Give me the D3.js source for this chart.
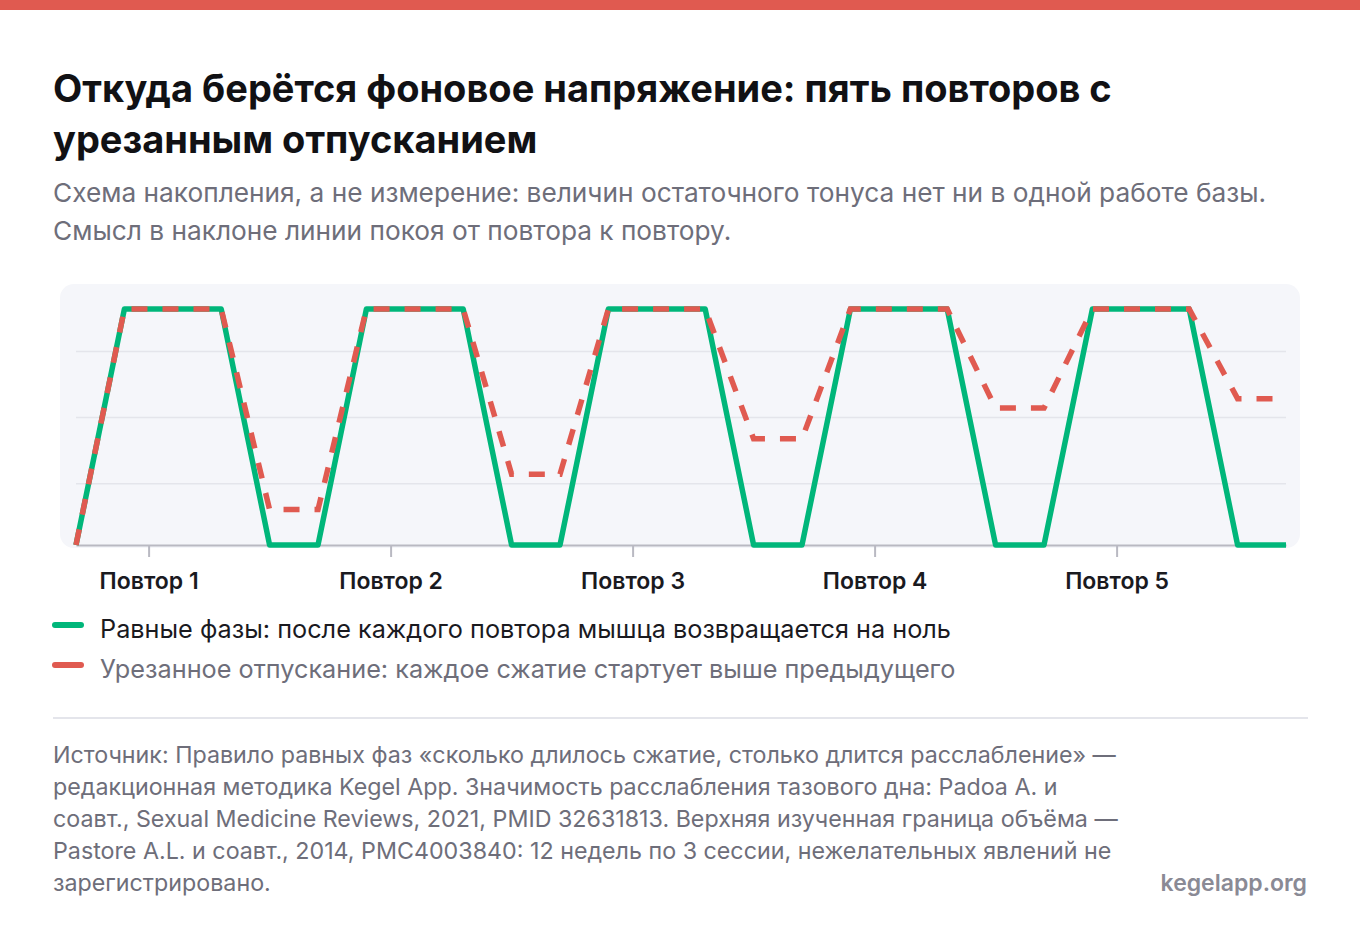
<!DOCTYPE html>
<html lang="ru">
<head>
<meta charset="utf-8">
<script src="https://cdn.jsdelivr.net/npm/d3@7"></script>
<style>
  body { margin: 0; background: #fff; font-family: Inter, "Noto Sans", sans-serif; }
  svg text { font-family: Inter, "Noto Sans", sans-serif; }
</style>
</head>
<body>
<script>
// phase time points (units: one rise / one rest = 1)
var timePoints = [0, 1, 3, 4, 5, 6, 8, 9, 10, 11, 13, 14, 15, 16, 18, 19, 20, 21, 23, 24, 25];
// equal phases: back to zero after every rep
var evenPhases = [0, 1, 1, 0, 0, 1, 1, 0, 0, 1, 1, 0, 0, 1, 1, 0, 0, 1, 1, 0, 0];
// cut release: rest line creeps up
var cutRelease = [0, 1, 1, 0.15, 0.15, 1, 1, 0.30, 0.30, 1, 1, 0.45, 0.45, 1, 1, 0.58, 0.58, 1, 1, 0.62, 0.62];
var repLabels = ["Повтор 1", "Повтор 2", "Повтор 3", "Повтор 4", "Повтор 5"];
var repTicks = [1.5, 6.5, 11.5, 16.5, 21.5];
var gridValues = [0.26, 0.54, 0.82];

var legendItems = [
  {label: "Равные фазы: после каждого повтора мышца возвращается на ноль", color: "#00b67a", text: "#1a1a1f"},
  {label: "Урезанное отпускание: каждое сжатие стартует выше предыдущего", color: "#e05a50", text: "#6e6e7a"}
];

var titleLines = ["Откуда берётся фоновое напряжение: пять повторов с", "урезанным отпусканием"];
var subtitleLines = [
  "Схема накопления, а не измерение: величин остаточного тонуса нет ни в одной работе базы.",
  "Смысл в наклоне линии покоя от повтора к повтору."
];
var sourceLines = [
  "Источник: Правило равных фаз «сколько длилось сжатие, столько длится расслабление» —",
  "редакционная методика Kegel App. Значимость расслабления тазового дна: Padoa A. и",
  "соавт., Sexual Medicine Reviews, 2021, PMID 32631813. Верхняя изученная граница объёма —",
  "Pastore A.L. и соавт., 2014, PMC4003840: 12 недель по 3 сессии, нежелательных явлений не",
  "зарегистрировано."
];

var W = 1360, H = 952;
var svg = d3.select("body").append("svg")
  .attr("width", W)
  .attr("height", H);

// top accent bar
svg.append("rect")
  .attr("x", 0).attr("y", 0)
  .attr("width", W).attr("height", 10)
  .attr("fill", "#e05a50");

// title
svg.append("g").selectAll("text")
  .data(titleLines)
  .enter()
  .append("text")
  .attr("x", 53)
  .attr("y", function(d, i) { return 102 + i * 51; })
  .attr("font-size", 38)
  .attr("font-weight", 700)
  .attr("fill", "#111114")
  .text(function(d) { return d; });

// subtitle
svg.append("g").selectAll("text")
  .data(subtitleLines)
  .enter()
  .append("text")
  .attr("x", 53)
  .attr("y", function(d, i) { return 202 + i * 38; })
  .attr("font-size", 26.25)
  .attr("fill", "#6e6e7a")
  .text(function(d) { return d; });

// chart panel
svg.append("rect")
  .attr("x", 60).attr("y", 284)
  .attr("width", 1240).attr("height", 264)
  .attr("rx", 14)
  .attr("fill", "#f5f6fa");

var x = d3.scaleLinear()
  .domain([0, 25])
  .range([76, 1286]);

var y = d3.scaleLinear()
  .domain([0, 1])
  .range([545, 309]);

// grid
svg.append("g").selectAll("line")
  .data(gridValues)
  .enter()
  .append("line")
  .attr("x1", x(0)).attr("x2", x(25))
  .attr("y1", function(d) { return y(d); })
  .attr("y2", function(d) { return y(d); })
  .attr("stroke", "#e4e5eb")
  .attr("stroke-width", 1.5);

// x axis
var xAxis = d3.axisBottom(x)
  .tickValues(repTicks)
  .tickFormat(function(d, i) { return repLabels[i]; })
  .tickSize(12)
  .tickSizeOuter(0)
  .tickPadding(16);

var axisG = svg.append("g")
  .attr("transform", "translate(0," + y(0) + ")")
  .call(xAxis);
axisG.select(".domain")
  .attr("stroke", "#b9b9c2")
  .attr("stroke-width", 2);
axisG.selectAll(".tick line")
  .attr("stroke", "#b9b9c2")
  .attr("stroke-width", 2);
axisG.selectAll(".tick text")
  .attr("font-size", 23)
  .attr("font-weight", 600)
  .attr("fill", "#1a1a1f")
  .attr("font-family", "Inter, sans-serif");

var line = d3.line()
  .x(function(d) { return x(d[0]); })
  .y(function(d) { return y(d[1]); });

svg.append("path")
  .datum(d3.zip(timePoints, evenPhases))
  .attr("d", line)
  .attr("fill", "none")
  .attr("stroke", "#00b67a")
  .attr("stroke-width", 5.5)
  .attr("stroke-linejoin", "round");

svg.append("path")
  .datum(d3.zip(timePoints, cutRelease))
  .attr("d", line)
  .attr("fill", "none")
  .attr("stroke", "#e05a50")
  .attr("stroke-width", 5.5)
  .attr("stroke-dasharray", "16,15");

// legend
var legend = svg.append("g").selectAll("g")
  .data(legendItems)
  .enter()
  .append("g")
  .attr("transform", function(d, i) { return "translate(0," + (625 + i * 40) + ")"; });

legend.append("line")
  .attr("x1", 55).attr("x2", 81)
  .attr("y1", 0).attr("y2", 0)
  .attr("stroke", function(d) { return d.color; })
  .attr("stroke-width", 6)
  .attr("stroke-linecap", "round");

legend.append("text")
  .attr("x", 100)
  .attr("y", 13)
  .attr("font-size", 25.25)
  .attr("fill", function(d) { return d.text; })
  .text(function(d) { return d.label; });

// separator
svg.append("line")
  .attr("x1", 53).attr("x2", 1308)
  .attr("y1", 718).attr("y2", 718)
  .attr("stroke", "#e4e5eb")
  .attr("stroke-width", 2);

// source
svg.append("g").selectAll("text")
  .data(sourceLines)
  .enter()
  .append("text")
  .attr("x", 53)
  .attr("y", function(d, i) { return 763 + i * 32; })
  .attr("font-size", 23.25)
  .attr("fill", "#6e6e7a")
  .text(function(d) { return d; });

svg.append("text")
  .attr("x", 1307)
  .attr("y", 891)
  .attr("text-anchor", "end")
  .attr("font-size", 23)
  .attr("font-weight", 600)
  .attr("fill", "#8a8a95")
  .text("kegelapp.org");
</script>
</body>
</html>
